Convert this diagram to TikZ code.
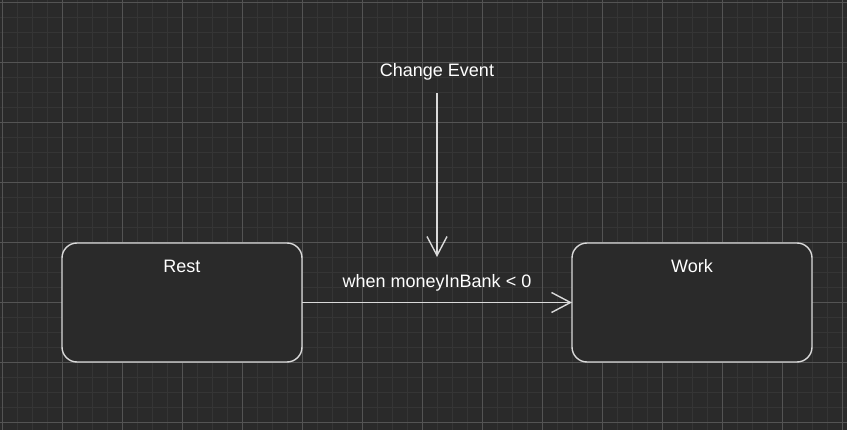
\documentclass[tikz,border=0pt]{standalone}
\usepackage{fontspec}
\setmainfont{Liberation Sans}
\usetikzlibrary{arrows.meta}
\definecolor{canvas}{HTML}{2A2A2A}
\definecolor{minorline}{HTML}{353535}
\definecolor{majorline}{HTML}{545454}
\definecolor{strokegray}{HTML}{DADADA}
\begin{document}
\begin{tikzpicture}[x=1pt, y=-1pt]
       \tikzstyle{minorgrid}=[minorline, line width=1pt]
       \tikzstyle{majorgrid}=[majorline, line width=1pt]
       \tikzstyle{state}=[draw=strokegray, fill=canvas, line width=1.4pt, rounded corners=15pt, minimum width=240pt, minimum height=119pt, outer sep=0pt]
       \tikzstyle{statename}=[white, font=\fontsize{18}{21}\selectfont, inner sep=0pt]
       \tikzstyle{trans}=[strokegray, line width=1.4pt, -{Straight Barb[length=19pt, width=20pt]}]
       % canvas and grid
       \fill[canvas] (0,0) rectangle (847,430);
       \useasboundingbox (0,0) rectangle (847,430);
       \foreach \x in {2,17,...,842} \draw[minorgrid] (\x,0) -- (\x,430);
       \foreach \y in {3,18,...,423} \draw[minorgrid] (0,\y) -- (847,\y);
       \foreach \x in {2,62,...,842} \draw[majorgrid] (\x,0) -- (\x,430);
       \foreach \y in {3,63,...,423} \draw[majorgrid] (0,\y) -- (847,\y);
       % states
       \node[state] (rest) at (182,302.5) {};
       \node[statename] (restname) at ([yshift=-23pt]rest.north) {Rest};
       \node[state] (work) at (692,302.5) {};
       \node[statename] (workname) at ([yshift=-23pt]work.north) {Work};
       % transition
       \draw[trans] (rest.east) -- (work.west)
        node[statename, midway, yshift=20pt] (guard) {when moneyInBank < 0};
       % change event
       \node[statename] (evt) at (437,72) {Change Event};
       \coordinate (evttip) at (437,257);
       \draw[trans, shorten <=12.5pt] (evt) -- (evttip);
\end{tikzpicture}
\end{document}
